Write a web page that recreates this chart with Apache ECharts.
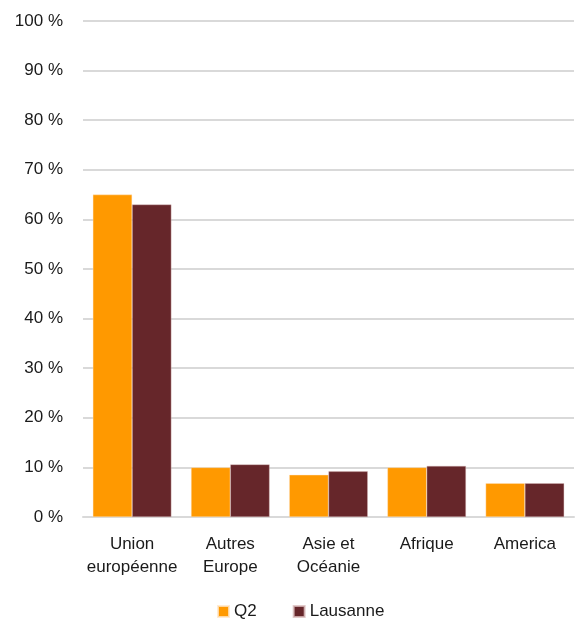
<!DOCTYPE html>
<html><head><meta charset="utf-8">
<script src="https://cdn.jsdelivr.net/npm/echarts@6/dist/echarts.min.js"></script>
<style>html,body{margin:0;padding:0;background:#fff}#c{width:575px;height:623px}</style>
</head><body><div id="c"></div>
<script>
const categories = ['Union\neuropéenne', 'Autres\nEurope', 'Asie et\nOcéanie', 'Afrique', 'America'];
const q2 = [65, 10, 8.5, 10, 6.8];
const lausanne = [63, 10.6, 9.2, 10.3, 6.8];
const chart = echarts.init(document.getElementById('c'));
chart.setOption({
  animation: false,
  textStyle: { fontFamily: 'Liberation Sans, Arial, sans-serif' },
  grid: { left: 83, right: 1, top: 21, bottom: 106, containLabel: false },
  legend: {
    top: 598, left: 212, itemWidth: 11, itemHeight: 11, itemGap: 36,
    icon: 'rect',
    textStyle: { fontSize: 17, color: '#1a1a1a', fontFamily: 'Liberation Sans, Arial, sans-serif' },
    data: ['Q2', 'Lausanne']
  },
  xAxis: {
    type: 'category', data: categories,
    axisLine: { lineStyle: { color: '#d9d9d9', width: 2 } },
    axisTick: { show: false },
    axisLabel: { fontSize: 17, color: '#1a1a1a', lineHeight: 23, margin: 16, interval: 0 }
  },
  yAxis: {
    type: 'value', min: 0, max: 100, interval: 10,
    axisLine: { show: false }, axisTick: { show: false },
    splitLine: { lineStyle: { color: '#d9d9d9', width: 2 } },
    axisLabel: { fontSize: 17, color: '#1a1a1a', margin: 20, formatter: v => v + ' %' }
  },
  series: [
    { name: 'Q2', type: 'bar', data: q2, barGap: '0%', barCategoryGap: '20%',
      itemStyle: { color: '#FF9900', borderColor: 'rgba(255,230,200,0.8)', borderWidth: 0.5 } },
    { name: 'Lausanne', type: 'bar', data: lausanne,
      itemStyle: { color: '#66262A', borderColor: 'rgba(220,190,190,0.8)', borderWidth: 0.5 } }
  ]
});
</script></body></html>
